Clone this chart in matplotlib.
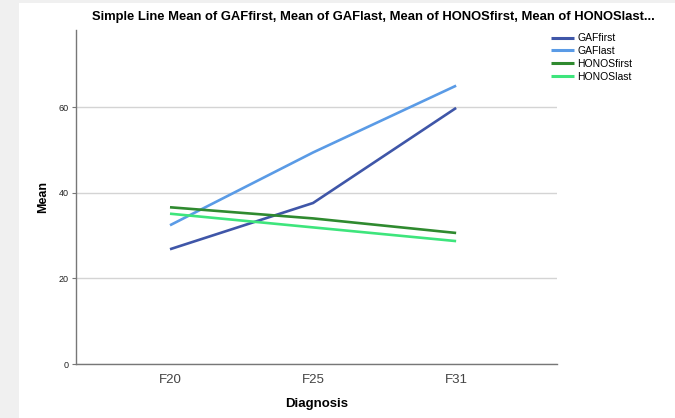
import matplotlib
matplotlib.use("Agg")
import matplotlib.pyplot as plt
from matplotlib.patches import Rectangle

plt.rcParams['font.family'] = ['Liberation Sans', 'DejaVu Sans']

# values
diagnoses = ['F20', 'F25', 'F31']
gaf_first = [26.8, 37.6, 59.8]
gaf_last = [32.4, 49.4, 65.0]
honos_first = [36.6, 34.0, 30.6]
honos_last = [35.1, 31.9, 28.7]

series = [
    ('GAFfirst', gaf_first, '#3f56a8'),
    ('GAFlast', gaf_last, '#5a9be6'),
    ('HONOSfirst', honos_first, '#2f8a2f'),
    ('HONOSlast', honos_last, '#3ee57c'),
]

fig = plt.figure(figsize=(6.75, 4.18), dpi=100)
fig.patch.set_facecolor('#f0f0f0')
# white chart panel inside the grey window
fig.patches.append(Rectangle((19 / 675, 0), 1, 1 - 3 / 418, transform=fig.transFigure,
                             facecolor='white', edgecolor='none', zorder=-5))

ax = fig.add_axes([76 / 675, 54 / 418, 481 / 675, 334 / 418])
ax.set_facecolor('none')

x = list(range(len(diagnoses)))
for name, vals, col in series:
    ax.plot(x, vals, color=col, lw=1.9, label=name, solid_capstyle='butt', zorder=3)

ax.set_xlim(-0.657, 2.705)
ax.set_ylim(0, 78)
ax.set_yticks([0, 20, 40, 60])
ax.set_xticks(x)
ax.set_xticklabels(diagnoses)
ax.yaxis.grid(True, color='#d4d4d4', lw=1)
ax.set_axisbelow(True)

for s in ['top', 'right']:
    ax.spines[s].set_visible(False)
for s in ['left', 'bottom']:
    ax.spines[s].set_color('#777777')
    ax.spines[s].set_linewidth(1.0)

ax.tick_params(axis='x', length=0, pad=7, labelsize=9.5, labelcolor='#444444')
ax.tick_params(axis='y', length=3, width=0.8, color='#777777', pad=2, labelsize=6.5,
               labelcolor='#222222')

ax.set_xlabel('Diagnosis', fontsize=9.5, fontweight='bold', labelpad=9)
ax.set_ylabel('Mean', fontsize=9, fontweight='bold', labelpad=7)

fig.text(92 / 675, 1 - 17 / 418,
         'Simple Line Mean of GAFfirst, Mean of GAFlast, Mean of HONOSfirst, Mean of HONOSlast...',
         fontsize=9.4, fontweight='bold', ha='left', va='center')

leg = fig.legend(loc='upper left', bbox_to_anchor=(547 / 675, 1 - 29 / 418),
                 frameon=False, fontsize=7.5, handlelength=2.2, handletextpad=0.3,
                 labelspacing=0.28, borderaxespad=0)
for line in leg.get_lines():
    line.set_linewidth(2.2)

fig.savefig('out.png', dpi=100, facecolor=fig.get_facecolor())
